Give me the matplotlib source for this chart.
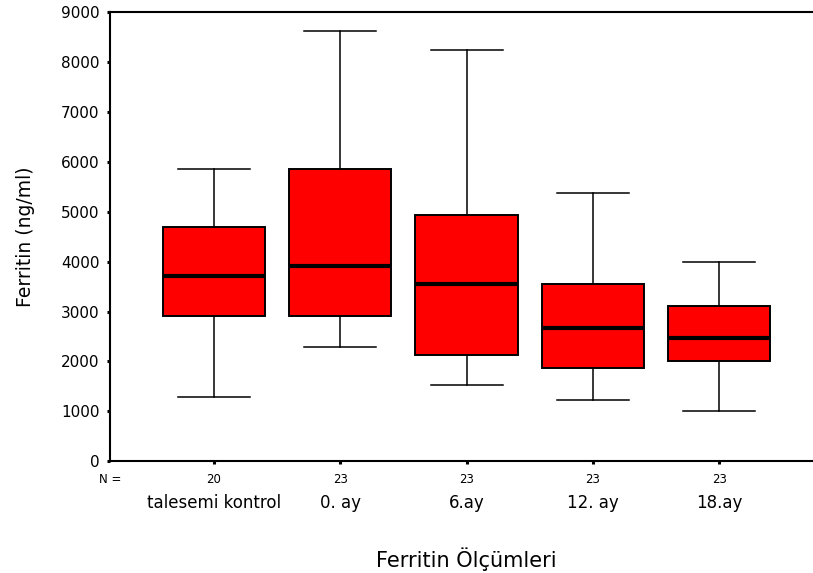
import matplotlib.pyplot as plt

# Ferritin boxplots per measurement time
groups = ["talesemi kontrol", "0. ay", "6.ay", "12. ay", "18.ay"]
n_values = [20, 23, 23, 23, 23]
whisker_low = [1290, 2290, 1530, 1237, 1010]
q1 = [2917, 2917, 2137, 1870, 2010]
medians = [3710, 3903, 3557, 2677, 2477]
q3 = [4683, 5850, 4937, 3557, 3117]
whisker_high = [5850, 8616, 8230, 5377, 3997]

stats = []
for i, name in enumerate(groups):
    stats.append({
        "label": name,
        "whislo": whisker_low[i],
        "q1": q1[i],
        "med": medians[i],
        "q3": q3[i],
        "whishi": whisker_high[i],
    })

fig = plt.figure(figsize=(8.13, 5.73), dpi=100)
ax = fig.add_axes([0.1353, 0.1946, 0.8647, 0.7853])

positions = list(range(1, len(groups) + 1))
ax.bxp(
    stats,
    positions=positions,
    widths=0.81,
    capwidths=0.57,
    showfliers=False,
    patch_artist=True,
    boxprops=dict(facecolor="#ff0000", edgecolor="black", linewidth=1.4),
    medianprops=dict(color="black", linewidth=3.0, solid_capstyle="butt"),
    whiskerprops=dict(color="black", linewidth=1.1),
    capprops=dict(color="black", linewidth=1.1),
)

ax.set_xlim(0.177, 5.743)
ax.set_ylim(0, 9000)
ax.set_yticks(range(0, 9001, 1000))
ax.set_yticklabels([str(v) for v in range(0, 9001, 1000)], fontsize=11)
ax.set_xticks(positions)
ax.set_xticklabels([])

for side in ["left", "bottom", "top"]:
    ax.spines[side].set_linewidth(1.5)
ax.spines["right"].set_visible(False)
ax.tick_params(axis="both", direction="out", length=2.5, width=2.2, pad=3)
ax.tick_params(axis="y", pad=5)

# N counts and group names under the axis
ax.text(0.177, -0.04, "N =", transform=ax.get_xaxis_transform(),
        ha="center", va="center", fontsize=8.5)
for pos, n, name in zip(positions, n_values, groups):
    ax.text(pos, -0.04, str(n), transform=ax.get_xaxis_transform(),
            ha="center", va="center", fontsize=8.5)
    ax.text(pos, -0.093, name, transform=ax.get_xaxis_transform(),
            ha="center", va="center", fontsize=12)

ax.text(3, -0.216, "Ferritin Ölçümleri", transform=ax.get_xaxis_transform(),
        ha="center", va="center", fontsize=15)
ax.set_ylabel("Ferritin (ng/ml)", fontsize=13.5, labelpad=19)

fig.savefig("out.png", dpi=100)
